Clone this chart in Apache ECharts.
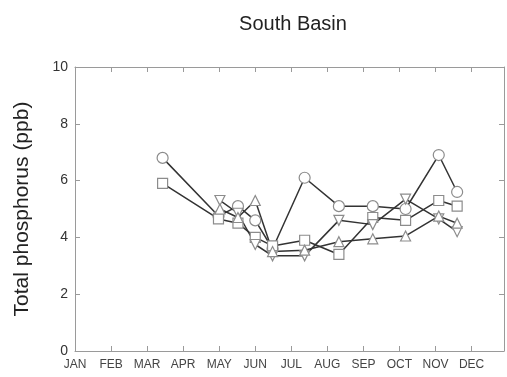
<!DOCTYPE html>
<html>
<head>
<meta charset="utf-8">
<script src="https://cdn.jsdelivr.net/npm/echarts@6/dist/echarts.min.js"></script>
<style>html,body{margin:0;padding:0;background:#fff;}#c{width:507px;height:377px;}</style>
</head>
<body>
<div id="c"></div>
<script>
// Month tick labels (x value 0 = JAN, 1 = FEB, ...)
const monthLabels = ['JAN','FEB','MAR','APR','MAY','JUN','JUL','AUG','SEP','OCT','NOV','DEC'];
const yTicks = [0, 2, 4, 6, 8, 10];

// Sampling dates (fractional month) for each series
const circleDates = [2.43, 3.98, 4.52, 5.0, 5.48, 6.37, 7.32, 8.26, 9.17, 10.09, 10.6];
const circleVals  = [6.8, 4.75, 5.1, 4.6, 3.6, 6.1, 5.1, 5.1, 5.0, 6.9, 5.6];

const squareDates = [2.43, 3.98, 4.52, 5.0, 5.48, 6.37, 7.32, 8.26, 9.17, 10.09, 10.6];
const squareVals  = [5.9, 4.65, 4.5, 4.0, 3.7, 3.9, 3.4, 4.7, 4.6, 5.3, 5.1];

const downTriDates = [4.02, 4.52, 5.0, 5.48, 6.37, 7.32, 8.26, 9.17, 10.09, 10.6];
const downTriVals  = [5.3, 4.85, 3.75, 3.35, 3.35, 4.6, 4.45, 5.35, 4.65, 4.2];

const upTriDates = [4.02, 4.52, 5.0, 5.48, 6.37, 7.32, 8.26, 9.17, 10.09, 10.6];
const upTriVals  = [5.0, 4.7, 5.3, 3.5, 3.55, 3.85, 3.95, 4.05, 4.75, 4.5];

const pair = (xs, ys) => xs.map((x, i) => [x, ys[i]]);

const chart = echarts.init(document.getElementById('c'));
const frameColor = '#9a9a9a';
const markerStyle = { color: '#ffffff', borderColor: '#8c8c8c', borderWidth: 1.2 };
const lineStyle = { color: '#333333', width: 1.5 };

function mkSeries(name, data, symbol, rotate) {
  return {
    name, type: 'line', data, symbol, symbolSize: symbol === 'circle' ? 11 : 10,
    symbolRotate: rotate || 0, showAllSymbol: true,
    lineStyle, itemStyle: markerStyle, emphasis: { disabled: true }, animation: false
  };
}

const frameAxisLine = { show: true, onZero: false, lineStyle: { color: frameColor, width: 1 } };
const frameTick = { show: true, inside: true, length: 5, lineStyle: { color: frameColor } };

chart.setOption({
  backgroundColor: '#ffffff',
  animation: false,
  title: {
    text: 'South Basin', left: 288, top: 9, textAlign: 'center',
    textStyle: { fontFamily: 'Liberation Sans, Arial', fontSize: 20, fontWeight: 'normal', color: '#222' }
  },
  grid: { left: 75, right: 3, top: 67, bottom: 26, show: false },
  xAxis: [{
    type: 'value', min: 0, max: 11.9, interval: 1,
    axisLine: frameAxisLine, axisTick: frameTick,
    axisLabel: {
      formatter: v => (Number.isInteger(v) && v < 12) ? monthLabels[v] : '',
      color: '#444', fontFamily: 'Liberation Sans, Arial', fontSize: 12, margin: 8
    },
    splitLine: { show: false }
  }, {
    type: 'value', position: 'top', min: 0, max: 11.9, interval: 1,
    axisLine: frameAxisLine, axisTick: frameTick,
    axisLabel: { show: false }, splitLine: { show: false }
  }],
  yAxis: [{
    type: 'value', min: yTicks[0], max: yTicks[yTicks.length - 1], interval: 2,
    name: 'Total phosphorus (ppb)', nameLocation: 'middle', nameGap: 42,
    nameTextStyle: { fontFamily: 'Liberation Sans, Arial', fontSize: 21, color: '#222' },
    axisLine: frameAxisLine, axisTick: frameTick,
    axisLabel: { color: '#333', fontFamily: 'Liberation Sans, Arial', fontSize: 14, margin: 7 },
    splitLine: { show: false }
  }, {
    type: 'value', position: 'right', min: 0, max: 10, interval: 2,
    axisLine: frameAxisLine, axisTick: frameTick,
    axisLabel: { show: false }, splitLine: { show: false }
  }],
  series: [
    mkSeries('circle', pair(circleDates, circleVals), 'circle'),
    mkSeries('square', pair(squareDates, squareVals), 'rect'),
    mkSeries('downTriangle', pair(downTriDates, downTriVals), 'triangle', 180),
    mkSeries('upTriangle', pair(upTriDates, upTriVals), 'triangle'),
    { type: 'line', xAxisIndex: 1, yAxisIndex: 1, data: [], silent: true }
  ]
});
</script>
</body>
</html>
